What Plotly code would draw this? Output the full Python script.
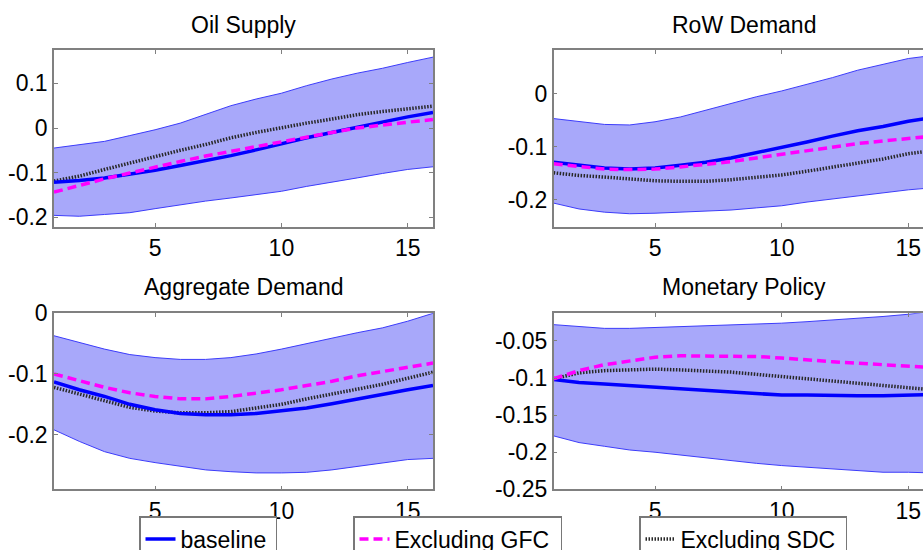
import plotly.graph_objects as go

horizon = list(range(1, 17))

titles = ["Oil Supply", "RoW Demand", "Aggregate Demand", "Monetary Policy"]

# Oil Supply
oil_upper = [-0.045, -0.037, -0.030, -0.017, -0.004, 0.011, 0.030, 0.050, 0.065, 0.078, 0.095, 0.110, 0.123, 0.134, 0.147, 0.159]
oil_lower = [-0.196, -0.198, -0.194, -0.190, -0.181, -0.172, -0.164, -0.157, -0.149, -0.142, -0.131, -0.122, -0.112, -0.102, -0.093, -0.087]
oil_base = [-0.122, -0.118, -0.112, -0.104, -0.095, -0.084, -0.073, -0.062, -0.049, -0.035, -0.022, -0.010, 0.002, 0.013, 0.025, 0.035]
oil_gfc = [-0.144, -0.129, -0.114, -0.101, -0.087, -0.075, -0.063, -0.052, -0.041, -0.030, -0.019, -0.010, 0.000, 0.007, 0.013, 0.019]
oil_sdc = [-0.119, -0.108, -0.093, -0.078, -0.063, -0.050, -0.037, -0.022, -0.010, 0.001, 0.011, 0.020, 0.030, 0.037, 0.043, 0.049]

# RoW Demand
row_upper = [-0.047, -0.053, -0.058, -0.059, -0.053, -0.044, -0.031, -0.019, -0.006, 0.005, 0.017, 0.030, 0.044, 0.055, 0.066, 0.072]
row_lower = [-0.206, -0.217, -0.223, -0.226, -0.225, -0.223, -0.221, -0.219, -0.215, -0.211, -0.204, -0.198, -0.192, -0.187, -0.181, -0.177]
row_base = [-0.129, -0.135, -0.140, -0.142, -0.140, -0.135, -0.129, -0.121, -0.111, -0.102, -0.091, -0.080, -0.070, -0.062, -0.052, -0.045]
row_gfc = [-0.132, -0.137, -0.142, -0.143, -0.142, -0.138, -0.133, -0.128, -0.121, -0.114, -0.107, -0.100, -0.094, -0.089, -0.084, -0.080]
row_sdc = [-0.149, -0.154, -0.157, -0.160, -0.164, -0.165, -0.165, -0.162, -0.158, -0.153, -0.146, -0.138, -0.131, -0.123, -0.113, -0.107]

# Aggregate Demand
agg_upper = [-0.037, -0.048, -0.059, -0.068, -0.073, -0.076, -0.076, -0.073, -0.067, -0.059, -0.050, -0.040, -0.032, -0.024, -0.013, 0.000]
agg_lower = [-0.192, -0.211, -0.228, -0.239, -0.246, -0.252, -0.258, -0.261, -0.263, -0.263, -0.262, -0.258, -0.252, -0.247, -0.241, -0.239]
agg_base = [-0.113, -0.126, -0.137, -0.150, -0.159, -0.165, -0.167, -0.167, -0.165, -0.161, -0.156, -0.149, -0.141, -0.134, -0.126, -0.119]
agg_gfc = [-0.100, -0.111, -0.122, -0.131, -0.137, -0.141, -0.141, -0.137, -0.132, -0.126, -0.119, -0.112, -0.103, -0.096, -0.088, -0.082]
agg_sdc = [-0.122, -0.133, -0.144, -0.155, -0.161, -0.164, -0.164, -0.162, -0.156, -0.150, -0.141, -0.133, -0.125, -0.117, -0.107, -0.097]

# Monetary Policy
mon_upper = [-0.028, -0.031, -0.033, -0.033, -0.032, -0.031, -0.030, -0.028, -0.027, -0.026, -0.024, -0.022, -0.019, -0.017, -0.014, -0.010]
mon_lower = [-0.178, -0.187, -0.192, -0.197, -0.200, -0.204, -0.208, -0.212, -0.215, -0.218, -0.220, -0.223, -0.225, -0.227, -0.227, -0.228]
mon_base = [-0.102, -0.106, -0.108, -0.110, -0.112, -0.114, -0.117, -0.119, -0.121, -0.123, -0.123, -0.124, -0.124, -0.124, -0.123, -0.122]
mon_gfc = [-0.101, -0.090, -0.082, -0.077, -0.072, -0.070, -0.070, -0.070, -0.071, -0.073, -0.076, -0.078, -0.080, -0.082, -0.085, -0.086]
mon_sdc = [-0.101, -0.093, -0.090, -0.089, -0.088, -0.089, -0.090, -0.092, -0.095, -0.098, -0.101, -0.104, -0.108, -0.110, -0.113, -0.116]

x_tickvals = [5, 10, 15]
x_ticktext = ["5", "10", "15"]

oil_yticks = [-0.2, -0.1, 0, 0.1]
oil_ytext = ["-0.2", "-0.1", "0", "0.1"]
row_yticks = [-0.2, -0.1, 0]
row_ytext = ["-0.2", "-0.1", "0"]
agg_yticks = [-0.2, -0.1, 0]
agg_ytext = ["-0.2", "-0.1", "0"]
mon_yticks = [-0.25, -0.2, -0.15, -0.1, -0.05]
mon_ytext = ["-0.25", "-0.2", "-0.15", "-0.1", "-0.05"]

series_names = ["baseline", "Excluding GFC", "Excluding SDC"]

panels = [
    dict(upper=oil_upper, lower=oil_lower, base=oil_base, gfc=oil_gfc, sdc=oil_sdc,
         yt=oil_yticks, ytt=oil_ytext, yr=[-0.221, 0.175]),
    dict(upper=row_upper, lower=row_lower, base=row_base, gfc=row_gfc, sdc=row_sdc,
         yt=row_yticks, ytt=row_ytext, yr=[-0.25, 0.082]),
    dict(upper=agg_upper, lower=agg_lower, base=agg_base, gfc=agg_gfc, sdc=agg_sdc,
         yt=agg_yticks, ytt=agg_ytext, yr=[-0.29, 0.0]),
    dict(upper=mon_upper, lower=mon_lower, base=mon_base, gfc=mon_gfc, sdc=mon_sdc,
         yt=mon_yticks, ytt=mon_ytext, yr=[-0.25, -0.0127]),
]

W, H = 923, 550
FONT = "Liberation Sans, Arial, sans-serif"
FS = 23
band_fill = "rgb(168,168,250)"
band_edge = "rgb(60,60,250)"
axis_col = "rgb(128,128,128)"

left_x = [54 / W, 433 / W]
right_x = [553.7 / W, 1.0]
right_xmax = 1 + (W - 553.7) / ((933.7 - 553.7) / 15)
top_y = [1 - 226.5 / H, 1 - 50 / H]
bot_y = [1 - 489.3 / H, 1 - 313.3 / H]
doms = [(left_x, top_y, False), (right_x, top_y, True), (left_x, bot_y, False), (right_x, bot_y, True)]

fig = go.Figure()
layout = {}
for i, (p, (dx, dy, is_right)) in enumerate(zip(panels, doms)):
    n = "" if i == 0 else str(i + 1)
    xa, ya = "x" + n, "y" + n
    fig.add_trace(go.Scatter(x=horizon, y=p["lower"], xaxis=xa, yaxis=ya, mode="lines",
                             line=dict(color=band_edge, width=1), showlegend=False, hoverinfo="skip"))
    fig.add_trace(go.Scatter(x=horizon, y=p["upper"], xaxis=xa, yaxis=ya, mode="lines",
                             line=dict(color=band_edge, width=1), fill="tonexty", fillcolor=band_fill,
                             showlegend=False, hoverinfo="skip"))
    fig.add_trace(go.Scatter(x=horizon, y=p["sdc"], xaxis=xa, yaxis=ya, mode="lines",
                             line=dict(color="rgb(40,40,40)", width=3.5, dash="1.5px,1.5px"),
                             name=series_names[2], legend="legend3", showlegend=(i == 0)))
    fig.add_trace(go.Scatter(x=horizon, y=p["base"], xaxis=xa, yaxis=ya, mode="lines",
                             line=dict(color="rgb(0,0,255)", width=3.5),
                             name=series_names[0], legend="legend", showlegend=(i == 0)))
    fig.add_trace(go.Scatter(x=horizon, y=p["gfc"], xaxis=xa, yaxis=ya, mode="lines",
                             line=dict(color="rgb(255,0,255)", width=3.5, dash="9px,5px"),
                             name=series_names[1], legend="legend2", showlegend=(i == 0)))
    xr = [1, right_xmax] if is_right else [1, 16]
    layout["xaxis" + n] = dict(domain=dx, range=xr, anchor=ya, tickvals=x_tickvals, ticktext=x_ticktext,
                               ticks="inside", ticklen=4, tickcolor=axis_col, showline=True, linecolor=axis_col,
                               linewidth=1.5, mirror="ticks", showgrid=False, zeroline=False,
                               tickfont=dict(family=FONT, size=FS, color="black"))
    layout["yaxis" + n] = dict(domain=dy, range=p["yr"], anchor=xa, tickvals=p["yt"], ticktext=p["ytt"],
                               ticks="inside", ticklen=4, tickcolor=axis_col, showline=True, linecolor=axis_col,
                               linewidth=1.5, mirror=False if is_right else "ticks", showgrid=False,
                               zeroline=False, tickfont=dict(family=FONT, size=FS, color="black"))

annotations = []
title_pos = [(243, 25), (743.7, 25), (243, 287), (743.7, 287)]
for t, (px, py) in zip(titles, title_pos):
    annotations.append(dict(text=t, x=px / W, y=1 - py / H, xref="paper", yref="paper",
                            xanchor="center", yanchor="middle", showarrow=False,
                            font=dict(family=FONT, size=FS, color="black")))

leg_common = dict(bgcolor="white", bordercolor="rgb(120,120,120)", borderwidth=1.5,
                  yanchor="top", xanchor="left", y=1 - 516 / H, orientation="h",
                  font=dict(family=FONT, size=FS, color="black"), itemwidth=30)

fig.update_layout(
    width=W, height=H, margin=dict(l=0, r=0, t=0, b=0, autoexpand=False),
    paper_bgcolor="white", plot_bgcolor="white",
    annotations=annotations,
    legend=dict(x=139 / W, entrywidth=90, **leg_common),
    legend2=dict(x=353 / W, entrywidth=161, **leg_common),
    legend3=dict(x=639 / W, entrywidth=160, **leg_common),
    **layout,
)

fig.write_html("out.html")
